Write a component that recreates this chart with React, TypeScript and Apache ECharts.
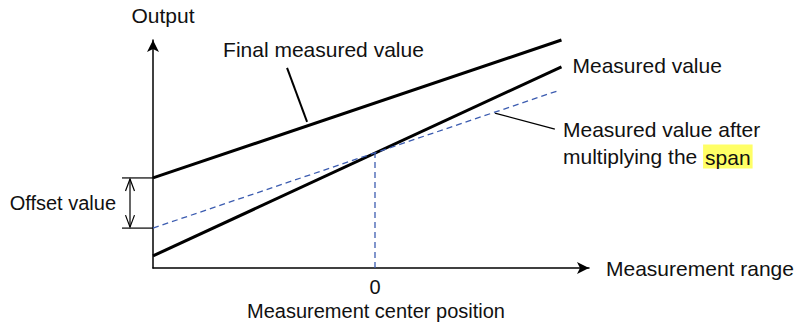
import React, { useEffect, useRef } from 'react';
import * as echarts from 'echarts';

// Data (in chart units: x = measurement position, y = output)
const xRange = [-1, 0.84];
const xSpanRange = [-1, 0.82];
const finalValues = [3.95, 10.0];
const measuredValues = [0.53, 8.82];
const spanValues = [1.75, 7.76];
const centerX = 0;
const centerY = 5.05;
const xTickLabels = ['0'];

const FONT = '"Liberation Sans", Arial, sans-serif';
const FS = 21;
const TXT = '#111';
const BLUE = '#3c5cb0';

function lineY(xs: number[], ys: number[], x: number) {
  const t = (x - xs[0]) / (xs[1] - xs[0]);
  return ys[0] + t * (ys[1] - ys[0]);
}

export default function App() {
  const ref = useRef<HTMLDivElement>(null);
  useEffect(() => {
    document.body.style.margin = '0';
    document.body.style.overflow = 'hidden';
    const chart = echarts.init(ref.current!, null, { renderer: 'svg' });
    chart.setOption({
      animation: false,
      grid: { left: 153, top: 40, width: 436, height: 228 },
      xAxis: {
        type: 'value',
        min: -1,
        max: 0.964,
        interval: 1,
        name: 'Measurement range',
        nameLocation: 'end',
        nameGap: 17,
        nameTextStyle: { fontFamily: FONT, fontSize: FS, color: TXT, verticalAlign: 'middle', padding: [0, 0, 4, 0] },
        axisLine: { show: true, onZero: false, symbol: ['none', 'arrow'], symbolSize: [9, 12], lineStyle: { color: '#000', width: 1.5 } },
        axisTick: { show: false },
        splitLine: { show: false },
        axisLabel: {
          show: true,
          margin: 9,
          fontFamily: FONT,
          fontSize: 20,
          color: TXT,
          formatter: (v: number) => (v === centerX ? xTickLabels[0] : ''),
        },
      },
      yAxis: {
        type: 'value',
        min: 0,
        max: 10,
        name: 'Output',
        nameLocation: 'end',
        nameGap: 14,
        nameTextStyle: { fontFamily: FONT, fontSize: FS, color: TXT, align: 'center', padding: [0, 0, 0, 20] },
        axisLine: { show: true, onZero: false, symbol: ['none', 'arrow'], symbolSize: [9, 12], lineStyle: { color: '#000', width: 1.5 } },
        axisTick: { show: false },
        splitLine: { show: false },
        axisLabel: { show: false },
      },
      series: [
        {
          name: 'Final measured value',
          type: 'line',
          symbol: 'none',
          data: xRange.map((x, i) => [x, finalValues[i]]),
          lineStyle: { color: '#000', width: 3 },
          clip: false,
        },
        {
          name: 'Measured value',
          type: 'line',
          symbol: 'none',
          data: xRange.map((x, i) => [x, measuredValues[i]]),
          lineStyle: { color: '#000', width: 3 },
          clip: false,
        },
        {
          name: 'Measured value after multiplying the span',
          type: 'line',
          symbol: 'none',
          data: xSpanRange.map((x, i) => [x, spanValues[i]]),
          lineStyle: { color: BLUE, width: 1.3, type: [6, 4] },
          clip: false,
        },
        {
          name: 'Center',
          type: 'line',
          symbol: 'none',
          data: [[centerX, 0], [centerX, centerY]],
          lineStyle: { color: BLUE, width: 1.3, type: [6, 4] },
        },
      ],
    });

    const px = (x: number, y: number) => chart.convertToPixel({ gridIndex: 0 }, [x, y]) as number[];
    const pFinal0 = px(xRange[0], finalValues[0]);
    const pSpan0 = px(xSpanRange[0], spanValues[0]);
    const pMeasEnd = px(xRange[1], measuredValues[1]);
    const pOrigin = px(centerX, 0);
    const lx1 = -0.306;
    const pLead1 = px(lx1, lineY(xRange, finalValues, lx1));
    const lx2 = 0.54;
    const pLead2 = px(lx2, lineY(xSpanRange, spanValues, lx2));

    const yTop = pFinal0[1];
    const yBot = pSpan0[1];
    const ax = 130;
    const ls = { stroke: '#000', lineWidth: 1.2 };
    const font = `${FS}px ${FONT}`;
    const font20 = `20px ${FONT}`;

    chart.setOption({
      graphic: [
        // Final measured value label + leader
        {
          type: 'line',
          shape: { x1: pLead1[0] - 20, y1: pLead1[1] - 58, x2: pLead1[0], y2: pLead1[1] - 4 },
          style: { stroke: '#000', lineWidth: 2 },
        },
        {
          type: 'text',
          x: pLead1[0] - 84,
          y: pLead1[1] - 76,
          style: { text: 'Final measured value', font, fill: TXT, verticalAlign: 'middle', align: 'left' },
        },
        // Measured value label
        {
          type: 'text',
          x: pMeasEnd[0] + 11,
          y: pMeasEnd[1] - 1,
          style: { text: 'Measured value', font, fill: TXT, verticalAlign: 'middle', align: 'left' },
        },
        // Span label + leader
        {
          type: 'line',
          shape: { x1: pLead2[0], y1: pLead2[1] + 1, x2: pLead2[0] + 60, y2: pLead2[1] + 17 },
          style: { stroke: '#000', lineWidth: 1.3 },
        },
        {
          type: 'text',
          x: 563,
          y: 116,
          style: {
            text: '{a|Measured value after}\n{a|multiplying the }{h|span}',
            font,
            fill: TXT,
            align: 'left',
            verticalAlign: 'top',
            rich: {
              a: { fontFamily: FONT, fontSize: FS, color: TXT, lineHeight: 27 },
              h: { fontFamily: FONT, fontSize: FS, color: TXT, lineHeight: 27, backgroundColor: '#ffff66', padding: [2, 2, 1, 2] },
            },
          },
        },
        // Offset bracket
        { type: 'line', shape: { x1: 122, y1: yTop, x2: pFinal0[0], y2: yTop }, style: ls },
        { type: 'line', shape: { x1: 122, y1: yBot, x2: pSpan0[0], y2: yBot }, style: ls },
        { type: 'line', shape: { x1: ax, y1: yTop + 1, x2: ax, y2: yBot - 1 }, style: ls },
        { type: 'polyline', shape: { points: [[ax - 4.5, yTop + 13], [ax, yTop + 1], [ax + 4.5, yTop + 13]] }, style: { ...ls, fill: 'none' } },
        { type: 'polyline', shape: { points: [[ax - 4.5, yBot - 13], [ax, yBot - 1], [ax + 4.5, yBot - 13]] }, style: { ...ls, fill: 'none' } },
        {
          type: 'text',
          x: 116,
          y: (yTop + yBot) / 2,
          style: { text: 'Offset value', font: font20, fill: TXT, verticalAlign: 'middle', align: 'right' },
        },
        // Center position label
        {
          type: 'text',
          x: pOrigin[0] + 1,
          y: pOrigin[1] + 43,
          style: { text: 'Measurement center position', font: font20, fill: TXT, verticalAlign: 'middle', align: 'center' },
        },
      ],
    });

    return () => chart.dispose();
  }, []);
  return <div ref={ref} style={{ width: 799, height: 326 }} />;
}
